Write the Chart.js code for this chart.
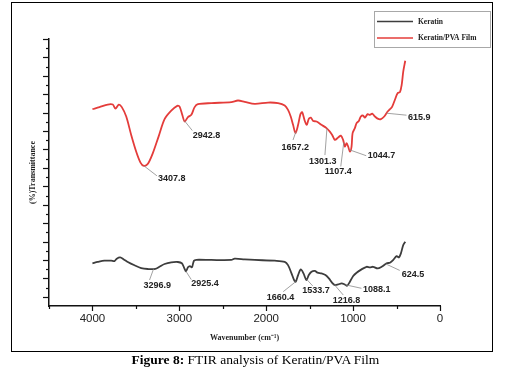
<!DOCTYPE html>
<html>
<head>
<meta charset="utf-8">
<script src="https://cdn.jsdelivr.net/npm/chart.js@4/dist/chart.umd.min.js"></script>
<style>
  html, body { margin: 0; padding: 0; background: #fff; }
  body { width: 511px; height: 367px; position: relative; overflow: hidden; }
  #frame { position: absolute; left: 11px; top: 2px; width: 480px; height: 348px; border: 1px solid #000; }
  #chart { position: absolute; left: 0; top: 0; }
  #caption { position: absolute; left: 0; top: 352px; width: 511px; text-align: center;
    font: 13.5px "Liberation Serif", "Times New Roman", serif; line-height: 15px; color: #000; }
</style>
</head>
<body>
<div id="frame"></div>
<canvas id="chart" width="511" height="367"></canvas>
<div id="caption"><b>Figure 8:</b> FTIR analysis of Keratin/PVA Film</div>
<script>
// Keratin/PVA film (wavenumber cm-1 -> transmittance, arbitrary units)
const filmWavenumbers = [4000, 3919, 3824, 3766, 3735, 3697, 3662, 3611, 3554, 3496, 3447, 3409, 3362, 3305, 3239, 3170, 3093, 3024, 2997, 2966, 2939, 2901, 2862, 2824, 2786, 2632, 2401, 2325, 2248, 2132, 1979, 1864, 1787, 1749, 1718, 1691, 1663, 1633, 1606, 1587, 1556, 1533, 1510, 1487, 1460, 1421, 1364, 1306, 1268, 1241, 1210, 1172, 1141, 1115, 1095, 1075, 1057, 1037, 1018, 1006, 980, 960, 934, 911, 884, 865, 833, 807, 780, 749, 711, 680, 642, 603, 576, 550, 519, 488, 461, 441, 423, 400];
const filmValues = [10.19, 10.30, 10.44, 10.44, 10.22, 10.44, 10.30, 9.79, 8.79, 7.88, 7.29, 7.11, 7.22, 7.80, 8.70, 9.65, 10.11, 10.37, 10.33, 9.88, 9.52, 9.76, 9.88, 10.30, 10.46, 10.52, 10.57, 10.66, 10.59, 10.48, 10.55, 10.52, 10.39, 10.15, 9.79, 9.34, 8.89, 9.34, 9.92, 10.03, 9.55, 9.34, 9.66, 9.73, 9.55, 9.52, 9.34, 9.16, 8.97, 8.79, 8.52, 8.65, 8.75, 8.52, 8.16, 8.34, 8.16, 7.88, 8.16, 8.89, 9.16, 9.43, 9.55, 9.79, 9.84, 9.73, 9.92, 9.88, 9.95, 9.79, 9.66, 9.65, 9.79, 10.06, 10.19, 10.33, 10.70, 11.06, 11.11, 11.51, 12.23, 12.82];

// Keratin
const keratinWavenumbers = [4000, 3939, 3862, 3784, 3746, 3720, 3681, 3639, 3593, 3516, 3439, 3362, 3277, 3228, 3170, 3093, 3017, 2971, 2947, 2924, 2901, 2878, 2855, 2832, 2805, 2632, 2401, 2363, 2248, 2132, 1902, 1787, 1749, 1709, 1679, 1660, 1633, 1602, 1571, 1537, 1510, 1479, 1441, 1410, 1364, 1318, 1279, 1241, 1210, 1172, 1133, 1095, 1069, 1037, 999, 960, 903, 845, 807, 769, 718, 672, 614, 576, 538, 499, 473, 450, 423, 400];
const keratinValues = [1.82, 1.89, 1.96, 1.96, 1.94, 2.07, 2.14, 2.03, 1.89, 1.71, 1.56, 1.51, 1.51, 1.63, 1.78, 1.87, 1.89, 1.82, 1.60, 1.38, 1.60, 1.67, 1.60, 1.96, 2.01, 2.00, 2.00, 2.07, 2.03, 2.00, 1.96, 1.90, 1.72, 1.27, 0.91, 0.82, 1.18, 1.49, 1.27, 0.91, 1.18, 1.36, 1.41, 1.31, 1.27, 1.18, 1.00, 0.76, 0.64, 0.67, 0.73, 0.67, 0.60, 0.82, 1.13, 1.31, 1.49, 1.63, 1.60, 1.63, 1.54, 1.63, 1.82, 1.85, 2.00, 2.21, 2.14, 2.36, 2.81, 2.99];

const filmPeaks = [3407.8, 2942.8, 1657.2, 1301.3, 1107.4, 1044.7, 615.9];
const keratinPeaks = [3296.9, 2925.4, 1660.4, 1533.7, 1216.8, 1088.1, 624.5];
const xTickLabels = [4000, 3000, 2000, 1000, 0];

// where each peak label sits from its peak: [leader dx, leader dy, text dx, text dy]
const filmLabelOffsets = [[13, 10, 14, 12.5], [8, 10, 8.5, 14.5], [-3, 8.5, -14.5, 16], [-2, 26.5, -18, 32.5], [-3, 24, -19, 29], [17, 6, 18.5, 6], [20, 2, 21.5, 4]];
const keratinLabelOffsets = [[-4, 11, -10, 16.5], [5.5, 8.5, 5.5, 12], [-12.5, 10, -29, 15.5], [6, 6.5, -4.5, 11], [9, 10.5, -1.5, 15.5], [16, 3.5, 17.5, 5], [14, 6.5, 16, 11]];

const sansFont = "'Liberation Sans', Arial, sans-serif";
const serifFont = "'Liberation Serif', 'Times New Roman', serif";

function toPoints(xs, ys) {
  return xs.map((x, i) => ({ x: x, y: ys[i] }));
}

// value of a spectrum at a given wavenumber (linear between read points)
function valueAt(xs, ys, wn) {
  for (let i = 0; i < xs.length - 1; i++) {
    if (wn <= xs[i] && wn >= xs[i + 1]) {
      const t = (xs[i] - wn) / (xs[i] - xs[i + 1]);
      return ys[i] + t * (ys[i + 1] - ys[i]);
    }
  }
  return ys[ys.length - 1];
}

function drawPeakLabels(ctx, chart, xs, ys, peaks, offsets) {
  const sx = chart.scales.x;
  const sy = chart.scales.y;
  peaks.forEach((wn, i) => {
    const px = sx.getPixelForValue(wn);
    const py = sy.getPixelForValue(valueAt(xs, ys, wn));
    const o = offsets[i];
    ctx.strokeStyle = "#8a8a8a";
    ctx.lineWidth = 0.8;
    ctx.beginPath();
    ctx.moveTo(px, py);
    ctx.lineTo(px + o[0], py + o[1]);
    ctx.stroke();
    ctx.fillStyle = "#222";
    ctx.font = "bold 9px " + sansFont;
    ctx.textAlign = "left";
    ctx.textBaseline = "middle";
    ctx.fillText(wn.toFixed(1), px + o[2], py + o[3]);
  });
}

const extras = {
  id: "extras",
  afterDraw(chart) {
    const ctx = chart.ctx;
    const area = chart.chartArea;
    const sx = chart.scales.x;
    const sy = chart.scales.y;
    ctx.save();

    // tick marks, major and minor
    ctx.strokeStyle = "#111";
    ctx.lineWidth = 1.2;
    for (let v = 0; v <= 14; v += 0.5) {
      const py = Math.round(sy.getPixelForValue(v)) + 0.5;
      const len = v % 1 === 0 ? 6 : 3;
      ctx.beginPath();
      ctx.moveTo(area.left - len, py);
      ctx.lineTo(area.left, py);
      ctx.stroke();
    }
    for (let v = 0; v <= 4500; v += 500) {
      const px = Math.round(sx.getPixelForValue(v)) + 0.5;
      const len = v % 1000 === 0 ? 5 : 3;
      ctx.beginPath();
      ctx.moveTo(px, area.bottom);
      ctx.lineTo(px, area.bottom + len);
      ctx.stroke();
    }

    drawPeakLabels(ctx, chart, filmWavenumbers, filmValues, filmPeaks, filmLabelOffsets);
    drawPeakLabels(ctx, chart, keratinWavenumbers, keratinValues, keratinPeaks, keratinLabelOffsets);

    // legend box
    ctx.strokeStyle = "#a8a8a8";
    ctx.lineWidth = 1;
    ctx.strokeRect(374.5, 11.5, 116, 36);
    chart.data.datasets.forEach((ds, i) => {
      const ly = 21.5 + i * 16.5;
      ctx.strokeStyle = ds.borderColor;
      ctx.lineWidth = 1.6;
      ctx.beginPath();
      ctx.moveTo(377, ly);
      ctx.lineTo(413, ly);
      ctx.stroke();
      ctx.fillStyle = "#222";
      ctx.font = "bold 7.5px " + serifFont;
      ctx.textAlign = "left";
      ctx.textBaseline = "middle";
      ctx.fillText(ds.label, 418, ly + 0.5);
    });
    ctx.restore();
  },
};

new Chart(document.getElementById("chart"), {
  type: "line",
  data: {
    datasets: [
      {
        label: "Keratin",
        data: toPoints(keratinWavenumbers, keratinValues),
        borderColor: "#3d3d3d",
        borderWidth: 1.8,
        pointRadius: 0,
        tension: 0.3,
      },
      {
        label: "Keratin/PVA Film",
        data: toPoints(filmWavenumbers, filmValues),
        borderColor: "#e43c3a",
        borderWidth: 1.8,
        pointRadius: 0,
        tension: 0.3,
      },
    ],
  },
  options: {
    responsive: false,
    animation: false,
    layout: { padding: { left: 0, top: 39, right: 71, bottom: 16 } },
    plugins: { legend: { display: false }, tooltip: { enabled: false } },
    scales: {
      x: {
        type: "linear",
        reverse: true,
        min: 0,
        max: 4500,
        grid: { display: false, drawTicks: false },
        border: { display: true, color: "#111", width: 1.5 },
        ticks: {
          stepSize: 500,
          autoSkip: false,
          maxRotation: 0,
          padding: 6,
          color: "#222",
          font: { family: sansFont, size: 11.5 },
          callback: (v) => (xTickLabels.includes(v) ? String(v) : ""),
        },
        title: {
          display: true,
          text: "Wavenumber (cm\u207B\u00B9)",
          color: "#222",
          font: { family: serifFont, size: 8, weight: "bold" },
          padding: { top: 0, bottom: 8 },
        },
        afterFit: (s) => { s.height = 45; },
      },
      y: {
        min: -0.5,
        max: 14,
        grid: { display: false, drawTicks: false },
        border: { display: true, color: "#111", width: 1.5 },
        ticks: { display: false },
        title: {
          display: true,
          text: "(%)Transmittance",
          color: "#222",
          font: { family: serifFont, size: 8, weight: "bold" },
          padding: { top: 28, bottom: 0 },
        },
        afterFit: (s) => { s.width = 49; },
      },
    },
  },
  plugins: [extras],
});
</script>
</body>
</html>
